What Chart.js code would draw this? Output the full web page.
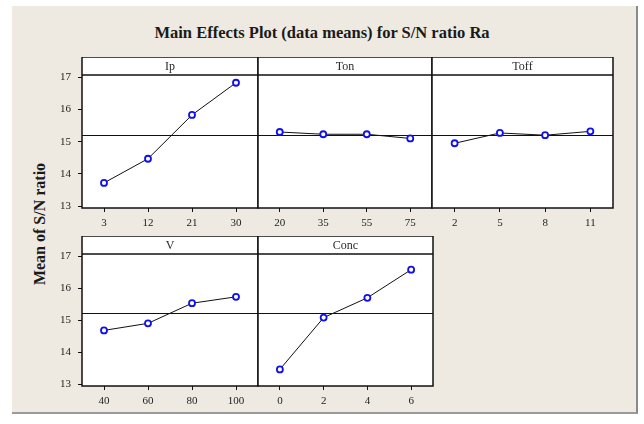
<!DOCTYPE html>
<html>
<head>
<meta charset="utf-8">
<script src="https://cdn.jsdelivr.net/npm/chart.js@4.4.1/dist/chart.umd.min.js"></script>
<style>
    html, body { margin: 0; padding: 0; background: #ffffff; }
    #page { position: relative; width: 644px; height: 424px; overflow: hidden; }
    #frame {
        position: absolute; left: 12px; top: 6px; width: 624px; height: 406px;
        background: #eeeae1; border-right: 2px solid #8a8a8a; border-bottom: 2px solid #9a9a9a;
    }
    #title {
        position: absolute; left: 0; width: 644px; top: 23px; text-align: center;
        font: bold 16.5px "Liberation Serif", "DejaVu Serif", serif; color: #1a1a1a;
    }
    #ylabel {
        position: absolute; left: 40px; top: 224px; transform: translate(-50%, -50%) rotate(-90deg);
        white-space: nowrap; font: bold 16px "Liberation Serif", "DejaVu Serif", serif; color: #1a1a1a;
    }
    canvas { position: absolute; }
</style>
</head>
<body>
<div id="page">
    <div id="frame"></div>
    <div id="title">Main Effects Plot (data means) for S/N ratio Ra</div>
    <div id="ylabel">Mean of S/N ratio</div>
    <canvas id="cIp"></canvas>
    <canvas id="cTon"></canvas>
    <canvas id="cToff"></canvas>
    <canvas id="cV"></canvas>
    <canvas id="cConc"></canvas>
</div>
<script>
// Factor levels and mean S/N ratio for each level
var ipLevels = ["3", "12", "21", "30"];
var ipSN = [13.72, 14.47, 15.83, 16.83];

var tonLevels = ["20", "35", "55", "75"];
var tonSN = [15.30, 15.23, 15.23, 15.10];

var toffLevels = ["2", "5", "8", "11"];
var toffSN = [14.95, 15.27, 15.20, 15.32];

var vLevels = ["40", "60", "80", "100"];
var vSN = [14.68, 14.90, 15.53, 15.73];

var concLevels = ["0", "2", "4", "6"];
var concSN = [13.46, 15.08, 15.70, 16.58];

var yTicks = [13, 14, 15, 16, 17];
var grandMean = 15.21;

var HEAD = 18;      // header strip height
var AXW = 40;       // room for the y axis
var AXH = 30;       // room for the x axis
var FONT = "'Liberation Serif', 'DejaVu Serif', serif";

// Draws white panel, header strip with factor name, frame and the grand mean line
var panelFrame = {
    id: "panelFrame",
    beforeDraw: function (chart) {
        var a = chart.chartArea, ctx = chart.ctx;
        ctx.save();
        ctx.fillStyle = "#ffffff";
        ctx.fillRect(a.left, a.top - HEAD, a.right - a.left, a.bottom - a.top + HEAD);
        ctx.restore();
    },
    beforeDatasetsDraw: function (chart) {
        var a = chart.chartArea, ctx = chart.ctx;
        var y = Math.round(chart.scales.y.getPixelForValue(grandMean)) + 0.5;
        ctx.save();
        ctx.strokeStyle = "#111111";
        ctx.lineWidth = 1;
        ctx.beginPath();
        ctx.moveTo(a.left, y);
        ctx.lineTo(a.right, y);
        ctx.stroke();
        ctx.restore();
    },
    afterDraw: function (chart) {
        var a = chart.chartArea, ctx = chart.ctx;
        ctx.save();
        ctx.strokeStyle = "#111111";
        ctx.lineWidth = 1.5;
        ctx.strokeRect(a.left, a.top - HEAD, a.right - a.left, a.bottom - a.top + HEAD);
        ctx.beginPath();
        ctx.moveTo(a.left, a.top);
        ctx.lineTo(a.right, a.top);
        ctx.stroke();
        ctx.fillStyle = "#2a2a2a";
        ctx.font = "12px " + FONT;
        ctx.textAlign = "center";
        ctx.textBaseline = "middle";
        ctx.fillText(chart.options.plugins.panelFrame.name, (a.left + a.right) / 2, a.top - HEAD / 2 + 1);
        ctx.restore();
    }
};

function makePanel(id, name, levels, values, box, showY) {
    var canvas = document.getElementById(id);
    canvas.width = (box.right - box.left) + AXW + 3;
    canvas.height = (box.bottom - box.top) + AXH;
    canvas.style.left = (box.left - AXW) + "px";
    canvas.style.top = box.top + "px";

    return new Chart(canvas.getContext("2d"), {
        type: "line",
        data: {
            labels: levels,
            datasets: [{
                data: values,
                borderColor: "#111111",
                borderWidth: 1,
                tension: 0,
                pointStyle: "circle",
                pointRadius: 3,
                pointBorderWidth: 1.8,
                pointBorderColor: "#1010ee",
                pointBackgroundColor: "#ffffff"
            }]
        },
        options: {
            responsive: false,
            animation: false,
            layout: { autoPadding: false, padding: { top: HEAD, right: 3, left: 0, bottom: 0 } },
            plugins: {
                legend: { display: false },
                tooltip: { enabled: false },
                panelFrame: { name: name }
            },
            scales: {
                x: {
                    type: "category",
                    offset: true,
                    border: { display: false },
                    grid: { drawOnChartArea: false, drawTicks: true, tickLength: 4, color: "#111111", lineWidth: 1 },
                    ticks: { color: "#222222", padding: 5, font: { family: FONT, size: 11 }, maxRotation: 0 },
                    afterFit: function (scale) { scale.height = AXH; }
                },
                y: {
                    min: 12.94,
                    max: 17.07,
                    border: { display: false },
                    afterBuildTicks: function (scale) {
                        scale.ticks = yTicks.map(function (v) { return { value: v }; });
                    },
                    grid: { display: showY, drawOnChartArea: false, drawTicks: true, tickLength: 4, color: "#111111", lineWidth: 1 },
                    ticks: { display: showY, color: "#222222", padding: 7, font: { family: FONT, size: 11 } },
                    afterFit: function (scale) { scale.width = AXW; }
                }
            }
        },
        plugins: [panelFrame]
    });
}

document.addEventListener("DOMContentLoaded", function () {
    makePanel("cIp", "Ip", ipLevels, ipSN, { left: 82, right: 258, top: 57, bottom: 208 }, true);
    makePanel("cTon", "Ton", tonLevels, tonSN, { left: 258, right: 432, top: 57, bottom: 208 }, false);
    makePanel("cToff", "Toff", toffLevels, toffSN, { left: 432, right: 613, top: 57, bottom: 208 }, false);
    makePanel("cV", "V", vLevels, vSN, { left: 82, right: 258, top: 236, bottom: 386 }, true);
    makePanel("cConc", "Conc", concLevels, concSN, { left: 258, right: 433, top: 236, bottom: 386 }, false);
});
</script>
</body>
</html>
